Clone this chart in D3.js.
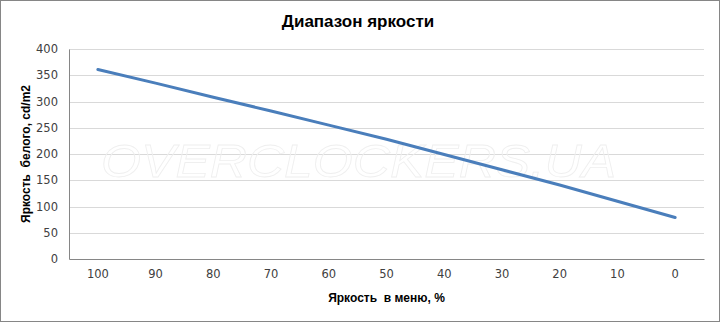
<!DOCTYPE html>
<html>
<head>
<meta charset="utf-8">
<script src="https://cdn.jsdelivr.net/npm/d3@7"></script>
<style>
  body { margin: 0; background: #fff; }
  svg { display: block; }
</style>
</head>
<body>
<div id="chart"></div>
<script>
// data
var menuLevels = ["100", "90", "80", "70", "60", "50", "40", "30", "20", "10", "0"];
var whiteLevels = [361, 335, 308, 282, 255, 228, 199, 170, 141, 110, 79];
var yTicks = [0, 50, 100, 150, 200, 250, 300, 350, 400];

var W = 720, H = 322;
var margin = { top: 49, right: 16, bottom: 63, left: 69 };
var width = W - margin.left - margin.right;
var height = H - margin.top - margin.bottom;

var svg = d3.select("#chart").append("svg")
    .attr("width", W)
    .attr("height", H);

// outer frame
svg.append("rect")
    .attr("x", 0.5).attr("y", 0.5)
    .attr("width", W - 1).attr("height", H - 1)
    .attr("fill", "#fff")
    .attr("stroke", "#868686");

svg.append("text")
    .attr("x", 358)
    .attr("y", 27)
    .attr("text-anchor", "middle")
    .style("font-family", "'Liberation Sans Narrow', 'Liberation Sans', Arial, sans-serif")
    .style("font-weight", "bold")
    .style("font-size", "17px")
    .attr("fill", "#000")
    .text("Диапазон яркости");

var g = svg.append("g")
    .attr("transform", `translate(${margin.left},${margin.top})`);

var x = d3.scaleBand()
    .domain(menuLevels)
    .range([0, width]);

var y = d3.scaleLinear()
    .domain([0, 400])
    .range([height, 0]);

// gridlines
g.append("g")
    .selectAll("line")
    .data(yTicks.filter(d => d > 0))
    .join("line")
    .attr("x1", 0)
    .attr("x2", width)
    .attr("y1", d => Math.round(y(d)) + 0.5)
    .attr("y2", d => Math.round(y(d)) + 0.5)
    .attr("stroke", "#d9d9d9");

// watermark
g.append("text")
    .attr("x", 32)
    .attr("y", 128)
    .attr("textLength", 515)
    .attr("lengthAdjust", "spacingAndGlyphs")
    .style("font-family", "'Liberation Sans', Arial, sans-serif")
    .style("font-style", "italic")
    .style("font-size", "46px")
    .attr("fill", "none")
    .attr("stroke", "#efefef")
    .attr("stroke-width", 0.8)
    .text("OVERCLOCKERS.UA");

// axes
var yAxis = g.append("g")
    .call(d3.axisLeft(y).tickValues(yTicks).tickSize(0).tickPadding(11));
var xAxis = g.append("g")
    .attr("transform", `translate(0,${height})`)
    .call(d3.axisBottom(x).tickSize(0).tickPadding(11));

[yAxis, xAxis].forEach(function (a) {
    a.select(".domain").attr("stroke", "#868686");
    a.selectAll("text")
        .style("font-family", "'DejaVu Sans', sans-serif")
        .style("font-size", "11.5px")
        .attr("fill", "#404040");
});

// line
var line = d3.line()
    .x((d, i) => x(menuLevels[i]) + x.bandwidth() / 2)
    .y(d => y(d));

g.append("path")
    .datum(whiteLevels)
    .attr("d", line)
    .attr("fill", "none")
    .attr("stroke", "#4a7ebb")
    .attr("stroke-width", 3)
    .attr("stroke-linecap", "round");

// axis titles
svg.append("text")
    .attr("x", margin.left + width / 2)
    .attr("y", 302)
    .attr("text-anchor", "middle")
    .style("font-family", "'Liberation Sans Narrow', 'Liberation Sans', Arial, sans-serif")
    .style("font-weight", "bold")
    .style("font-size", "12px")
    .style("white-space", "pre")
    .attr("fill", "#000")
    .text("Яркость  в меню, %");

svg.append("text")
    .attr("transform", `translate(30,${margin.top + height / 2}) rotate(-90)`)
    .attr("text-anchor", "middle")
    .style("font-family", "'Liberation Sans', Arial, sans-serif")
    .style("font-weight", "bold")
    .style("font-size", "12px")
    .style("white-space", "pre")
    .attr("fill", "#000")
    .text("Яркость  белого, cd/m2");
</script>
</body>
</html>
